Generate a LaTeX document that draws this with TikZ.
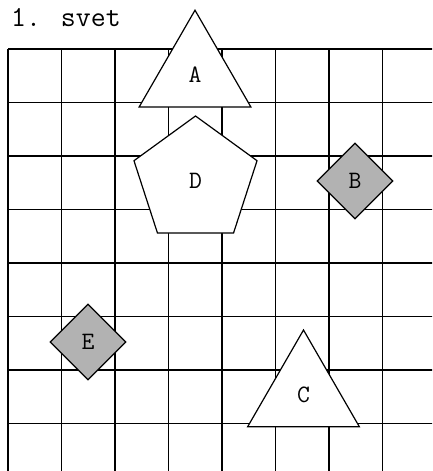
\documentclass[tikz,border=0pt]{standalone}
\usepackage{fontspec}
\usetikzlibrary{
  shapes.geometric
}

\begin{document}
\begin{tikzpicture}[x=1pt, y=-1pt]
\useasboundingbox (0,0) rectangle (432,471);
% -------------------------
% Grid
% -------------------------
\begin{scope}[line width=1.8pt]
\clip (0,0) rectangle (432,471);
\foreach \k in {0,...,7} {
  \draw (8+53.5*\k, 49) -- (8+53.5*\k, 480);
  \draw (8, 49+53.5*\k) -- (440, 49+53.5*\k);
}
\end{scope}

% -------------------------
% Title
% -------------------------
\node[anchor=base west, inner sep=0, font=\ttfamily\fontsize{29}{29}\selectfont] (title) at (11,27) {1. svet};

% -------------------------
% Shapes
% -------------------------
\begin{scope}[
  every node/.style={draw, line width=1.2pt, inner sep=0, font=\ttfamily\fontsize{25}{25}\selectfont},
  tri/.style={regular polygon, regular polygon sides=3, minimum size=129pt, fill=white},
  penta/.style={regular polygon, regular polygon sides=5, minimum size=129.4pt, fill=white},
  rhomb/.style={diamond, aspect=1, minimum size=76pt, fill=black!30}
]
\node[tri]   (A) at (195, 74.7)  {A};
\node[penta] (D) at (195.5,180.7) {D};
\node[rhomb] (B) at (355, 181)   {B};
\node[rhomb] (E) at (88, 342)    {E};
\node[tri]   (C) at (303.5,394.5) {C};
\end{scope}

\end{tikzpicture}
\end{document}
